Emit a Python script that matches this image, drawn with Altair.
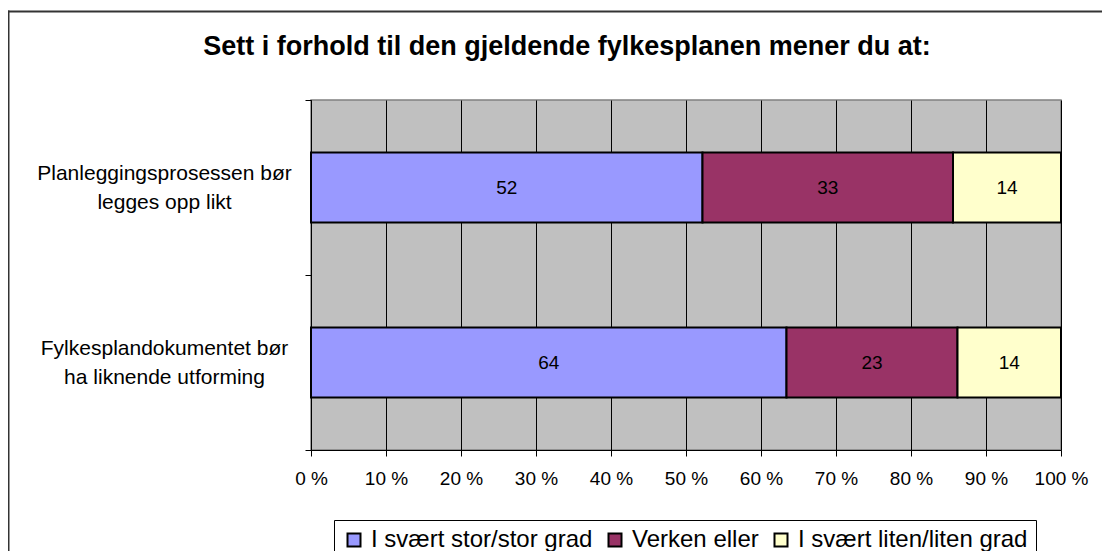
import altair as alt
import pandas as pd

categories = ["Planleggingsprosessen bør\nlegges opp likt",
              "Fylkesplandokumentet bør\nha liknende utforming"]
series = ["I svært stor/stor grad", "Verken eller", "I svært liten/liten grad"]
values_1 = [52.2, 33.4, 14.4]
values_2 = [63.4, 22.8, 13.8]
labels_1 = [52, 33, 14]
labels_2 = [64, 23, 14]
colors = ["#9999FF", "#993366", "#FFFFCC"]
x_ticks = [0, 10, 20, 30, 40, 50, 60, 70, 80, 90, 100]
title_text = "Sett i forhold til den gjeldende fylkesplanen mener du at:"

rows = []
for cat, vals, labs in [(categories[0], values_1, labels_1), (categories[1], values_2, labels_2)]:
    for i, (s, v, l) in enumerate(zip(series, vals, labs)):
        rows.append({"category": cat, "series": s, "value": v, "label": str(l), "order": i})
df = pd.DataFrame(rows)

FONT = "Liberation Sans"
W, H = 750, 350
PAD_L, PAD_T = 303, 92
PAD_R = 1094 - PAD_L - W
PAD_B = 543 - PAD_T - H

y_enc = alt.Y(
    "category:N", sort=categories,
    scale=alt.Scale(paddingInner=0, paddingOuter=0),
    axis=alt.Axis(title=None, tickBand="extent", tickSize=6, tickColor="black",
                  domainColor="black", domainWidth=1, grid=False,
                  labelExpr="split(datum.label, '\\n')", labelAlign="center",
                  labelBaseline="middle", labelPadding=141, labelFont=FONT,
                  labelFontSize=21, labelColor="black", labelLineHeight=29,
                  labelLimit=0, labelOffset=-14.5),
)

bars = alt.Chart(df).mark_bar(size=70, stroke="black", strokeWidth=2).encode(
    x=alt.X("value:Q", stack="zero", scale=alt.Scale(domain=[0, 100], nice=False),
            axis=alt.Axis(title=None, values=x_ticks, grid=True, gridColor="black",
                          gridWidth=1, gridOpacity=1, tickSize=6, tickColor="black",
                          domainColor="black", labelExpr="datum.value + ' %'",
                          labelFont=FONT, labelFontSize=19, labelColor="black",
                          labelPadding=13, labelFlush=False, labelLimit=0,
                          labelOverlap=False)),
    y=y_enc,
    color=alt.Color("series:N", sort=series,
                    scale=alt.Scale(domain=series, range=colors),
                    legend=alt.Legend(orient="none", legendX=23, legendY=420,
                                      direction="horizontal", title=None,
                                      strokeColor="black", fillColor="white",
                                      padding=8, symbolType="square", symbolSize=169,
                                      symbolStrokeColor="black", symbolStrokeWidth=2,
                                      symbolOpacity=1, labelLimit=0,
                                      labelFont=FONT, labelFontSize=24, labelColor="black",
                                      columnPadding=10, labelOffset=5)),
    order=alt.Order("order:Q"),
)

texts = alt.Chart(df).transform_window(
    cum="sum(value)", groupby=["category"], sort=[alt.SortField("order")]
).transform_calculate(
    mid="datum.cum - datum.value / 2"
).mark_text(font=FONT, fontSize=19, color="black", baseline="middle", align="center").encode(
    x=alt.X("mid:Q"),
    y=alt.Y("category:N", sort=categories),
    text="label:N",
)

deco = pd.DataFrame({"k": [0]})
title = alt.Chart(deco).mark_text(text=title_text, font=FONT, fontSize=27, fontWeight="bold",
                                  color="black", baseline="middle", align="center").encode(
    x=alt.value(567 - 311), y=alt.value(47 - 100))
border_top = alt.Chart(deco).mark_rule(color="#333333", strokeWidth=2).encode(
    x=alt.value(-PAD_L), x2=alt.value(W + PAD_R), y=alt.value(-88.5))
border_left = alt.Chart(deco).mark_rule(color="#333333", strokeWidth=2).encode(
    x=alt.value(-302.5), y=alt.value(-89.5), y2=alt.value(H + PAD_B))

chart = alt.layer(bars, texts, title, border_top, border_left).properties(
    width=W, height=H,
    autosize=alt.AutoSizeParams(type="none"),
    padding={"left": PAD_L, "top": PAD_T, "right": PAD_R, "bottom": PAD_B},
).configure_view(fill="#C0C0C0", stroke="#808080", strokeWidth=1.5)

chart.save("out.html", embed_options={"renderer": "svg", "actions": False})
